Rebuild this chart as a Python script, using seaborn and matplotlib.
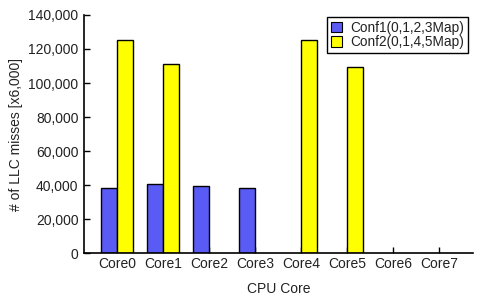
import pandas as pd
import matplotlib
matplotlib.use("Agg")
import matplotlib.pyplot as plt
import seaborn as sns
from matplotlib.ticker import FuncFormatter

cores = ["Core0", "Core1", "Core2", "Core3", "Core4", "Core5", "Core6", "Core7"]
conf1 = [38000, 40500, 39500, 38000, 0, 0, 0, 0]
conf2 = [125000, 111000, 0, 0, 125000, 109500, 0, 0]
series_names = ["Conf1(0,1,2,3Map)", "Conf2(0,1,4,5Map)"]

df = pd.DataFrame({
    "core": cores * 2,
    "misses": conf1 + conf2,
    "conf": [series_names[0]] * len(cores) + [series_names[1]] * len(cores),
})

sns.set_theme(style="white")
plt.rcParams["font.family"] = ["Liberation Sans", "DejaVu Sans"]
txt = "#222222"

fig = plt.figure(figsize=(4.8, 3.05), dpi=100)
ax = fig.add_axes([0.175, 0.17, 0.81, 0.781])

sns.barplot(data=df, x="core", y="misses", hue="conf",
            palette=["#5a5af5", "#ffff00"], width=0.7, gap=0,
            edgecolor="black", linewidth=1.0, saturation=1, ax=ax)
# empty bars shouldn't draw an outline on the axis
for p in ax.patches:
    if p.get_height() == 0:
        p.set_linewidth(0)

ax.set_ylim(0, 140000)
ax.set_xlim(-0.72, 7.74)
ax.set_yticks(range(0, 140001, 20000))
ax.yaxis.set_major_formatter(FuncFormatter(lambda v, _: f"{int(v):,}"))
ax.tick_params(axis="both", direction="in", length=4, width=1, color="black",
               labelcolor=txt, labelsize=10, pad=3, left=True, bottom=True)
ax.tick_params(axis="y", pad=4)
for s in ["top", "right"]:
    ax.spines[s].set_visible(False)
for s in ["left", "bottom"]:
    ax.spines[s].set_color("black")
    ax.spines[s].set_linewidth(1.2)

ax.set_xlabel("CPU Core", fontsize=10, labelpad=8, color=txt)
ax.set_ylabel("# of LLC misses [x6,000]", fontsize=10, labelpad=4, color=txt)

leg = ax.legend(loc="upper right", bbox_to_anchor=(0.987, 0.99), fontsize=9.8,
                frameon=True, fancybox=False, framealpha=1, edgecolor="black",
                handlelength=0.85, handleheight=0.85, handletextpad=0.6,
                labelspacing=0.05, borderpad=0.25, borderaxespad=0)
leg.get_frame().set_linewidth(1.0)
for h in leg.legend_handles:
    h.set_edgecolor("black")
    h.set_linewidth(0.8)
for t in leg.get_texts():
    t.set_color(txt)

fig.savefig("out.png", dpi=100)
